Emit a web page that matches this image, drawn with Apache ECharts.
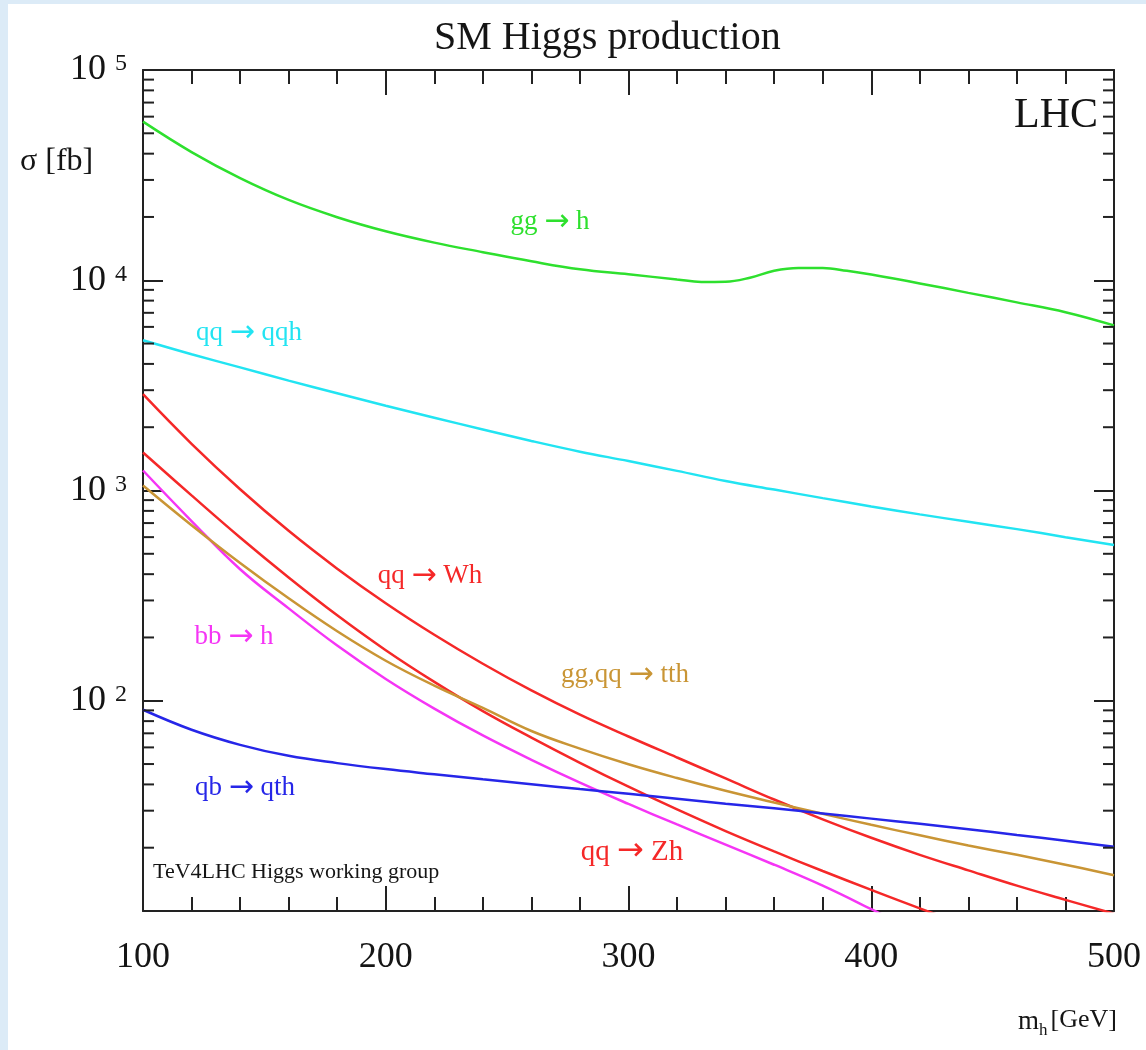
<!DOCTYPE html>
<html>
<head>
<meta charset="utf-8">
<script src="https://cdn.jsdelivr.net/npm/echarts@6/dist/echarts.min.js"></script>
<style>
html, body { margin: 0; padding: 0; background: #fff; }
#chart { width: 1146px; height: 1050px; }
</style>
</head>
<body>
<div id="chart"></div>
<script>
// Higgs mass grid [GeV]
const masses = [100, 120, 140, 160, 180, 200, 220, 240, 260, 280, 300, 320, 340, 360, 380, 400, 420, 440, 460, 480, 500];
// gg -> h needs a finer grid around the tt threshold
const ggMasses = [100, 120, 140, 160, 180, 200, 220, 240, 260, 280, 300, 320, 330, 340, 350, 360, 370, 380, 390, 400, 420, 440, 460, 480, 500];

// cross sections [fb]
const ggH = [56800, 40700, 30600, 24100, 19950, 17100, 15100, 13600, 12300, 11270, 10670, 10090, 9820, 9840, 10280, 11090, 11430, 11430, 11090, 10640, 9660, 8710, 7850, 7050, 6100];
const qqH = [5180, 4450, 3850, 3330, 2900, 2530, 2220, 1950, 1720, 1530, 1380, 1240, 1110, 1010, 920, 840, 770, 710, 655, 600, 550];
const wH = [2870, 1667, 1014, 643, 425, 291, 206, 150, 112, 85.9, 67.6, 53.7, 42.7, 33.9, 27.3, 22.3, 18.5, 15.6, 13.2, 11.3, 9.7];
const zH = [1517, 948, 598, 386, 255, 174, 123, 89.3, 66.8, 50.7, 39.0, 30.4, 24.0, 19.2, 15.5, 12.6, 10.3, 8.5];
const bbH = [1245, 716, 422, 275, 183, 127, 91.8, 68.4, 52.4, 40.8, 32.3, 25.8, 20.7, 16.6, 13.2, 10.2, 7.8];
const ttH = [1057, 684, 452, 307, 214, 155, 118, 92.5, 71.8, 59.2, 49.9, 42.9, 37.3, 32.8, 29.0, 25.7, 22.9, 20.5, 18.5, 16.6, 14.8];
const qtH = [90.6, 72.8, 61.7, 54.7, 50.5, 47.3, 44.7, 42.3, 40.1, 38.0, 36.1, 34.2, 32.4, 30.8, 29.1, 27.5, 26.0, 24.5, 23.0, 21.6, 20.2];

// y axis minor ticks: 2..9 times each decade
const yDecades = [10, 100, 1000, 10000];
const yMinorSteps = [2, 3, 4, 5, 6, 7, 8, 9];

const FONT = "'Liberation Serif', 'Times New Roman', serif";
const INK = '#151515';

const pairs = (xs, ys) => ys.map((v, i) => [xs[i], v]);

const minorVals = [];
yDecades.forEach(d => yMinorSteps.forEach(s => minorVals.push([100, d * s])));

const axisLine = { show: true, onZero: false, lineStyle: { color: '#222', width: 2 } };

const chart = echarts.init(document.getElementById('chart'));

function curve(name, xs, ys, color) {
  return {
    name: name,
    type: 'line',
    data: pairs(xs, ys),
    showSymbol: false,
    smooth: 0.4,
    clip: true,
    lineStyle: { color: color, width: 2.5 },
    itemStyle: { color: color },
    z: 3
  };
}

function note(text, x, y, color, size, align) {
  // arrows drawn with DejaVu, which has a longer glyph
  const rich = text.indexOf('→') >= 0;
  return {
    type: 'text',
    x: x,
    y: y,
    z: 10,
    style: {
      text: rich ? text.replace('→', '{a|→}') : text,
      fill: color,
      fontSize: size,
      fontFamily: FONT,
      align: align || 'center',
      verticalAlign: 'middle',
      textAlign: align || 'center',
      textVerticalAlign: 'middle',
      rich: rich ? { a: { fontFamily: "'DejaVu Sans', sans-serif", fontSize: Math.round(size * 1.1), fill: color } } : undefined
    }
  };
}

const option = {
  backgroundColor: '#fff',
  animation: false,
  title: {
    text: 'SM Higgs production',
    left: 429,
    top: 13,
    textStyle: { fontSize: 40, fontWeight: 'normal', fontFamily: FONT, color: INK }
  },
  grid: { left: 143, right: 32, top: 70, bottom: 139, outerBoundsMode: 'none' },
  xAxis: [
    {
      type: 'value', min: 100, max: 500, interval: 100, position: 'bottom',
      axisLine: axisLine,
      axisTick: { inside: true, length: 25, lineStyle: { color: '#222', width: 2 } },
      minorTick: { show: true, splitNumber: 5, length: 14, lineStyle: { color: '#222', width: 2 } },
      axisLabel: { margin: 29, fontSize: 36, fontFamily: FONT, color: INK },
      splitLine: { show: false }, minorSplitLine: { show: false }
    },
    {
      type: 'value', min: 100, max: 500, interval: 100, position: 'top',
      axisLine: axisLine,
      axisTick: { inside: true, length: 25, lineStyle: { color: '#222', width: 2 } },
      minorTick: { show: true, splitNumber: 5, length: 14, lineStyle: { color: '#222', width: 2 } },
      axisLabel: { show: false },
      splitLine: { show: false }
    }
  ],
  yAxis: [
    {
      type: 'log', logBase: 10, min: 10, max: 100000, position: 'left',
      axisLine: axisLine,
      axisTick: { inside: true, length: 20, lineStyle: { color: '#222', width: 2 } },
      axisLabel: {
        margin: 16,
        formatter: v => {
          const e = Math.round(Math.log10(v));
          return e < 2 ? '' : '{b|10}{e|' + e + '}';
        },
        rich: {
          b: { fontSize: 36, fontFamily: FONT, color: INK },
          e: { fontSize: 24, fontFamily: FONT, color: INK, verticalAlign: 'top', padding: [0, 0, 0, 9] }
        }
      },
      splitLine: { show: false }
    },
    {
      type: 'log', logBase: 10, min: 10, max: 100000, position: 'right',
      axisLine: axisLine,
      axisTick: { inside: true, length: 20, lineStyle: { color: '#222', width: 2 } },
      axisLabel: { show: false },
      splitLine: { show: false }
    }
  ],
  series: [
    curve('gg → h', ggMasses, ggH, '#2ee02e'),
    curve('qq → qqh', masses, qqH, '#22e4f2'),
    curve('qq → Wh', masses, wH, '#f52828'),
    curve('qq → Zh', masses, zH, '#f52828'),
    curve('bb → h', masses, bbH, '#f535f5'),
    curve('gg,qq → tth', masses, ttH, '#c99535'),
    curve('qb → qth', masses, qtH, '#2626e8'),
    {
      type: 'custom',
      silent: true,
      data: minorVals,
      encode: { x: 0, y: 1 },
      z: 4,
      renderItem: (params, api) => {
        const v = api.value(1);
        const l = api.coord([100, v]);
        const r = api.coord([500, v]);
        const st = { stroke: '#222', lineWidth: 2 };
        return {
          type: 'group',
          children: [
            { type: 'line', shape: { x1: l[0], y1: l[1], x2: l[0] + 11, y2: l[1] }, style: st },
            { type: 'line', shape: { x1: r[0] - 11, y1: r[1], x2: r[0], y2: r[1] }, style: st }
          ]
        };
      }
    }
  ],
  graphic: [
    { type: 'rect', shape: { x: 0, y: 0, width: 8, height: 1050 }, style: { fill: '#dcebf7' }, z: 20 },
    { type: 'rect', shape: { x: 0, y: 0, width: 1146, height: 4 }, style: { fill: '#dcebf7' }, z: 20 },
    note('σ [fb]', 20, 162, INK, 32, 'left'),
    note('LHC', 1098, 116, INK, 42, 'right'),
    note('gg → h', 550, 222, '#2ee02e', 27),
    note('qq → qqh', 249, 333, '#22e4f2', 27),
    note('qq → Wh', 430, 576, '#f52828', 27),
    note('bb → h', 234, 637, '#f535f5', 27),
    note('gg,qq → tth', 625, 675, '#c99535', 27),
    note('qb → qth', 245, 788, '#2626e8', 27),
    note('qq → Zh', 632, 852, '#f52828', 29),
    note('TeV4LHC Higgs working group', 153, 872, INK, 22, 'left'),
    note('m', 1018, 1022, INK, 27, 'left'),
    note('h', 1039, 1031, INK, 17, 'left'),
    note('[GeV]', 1117, 1020, INK, 26, 'right')
  ]
};

chart.setOption(option);
</script>
</body>
</html>
